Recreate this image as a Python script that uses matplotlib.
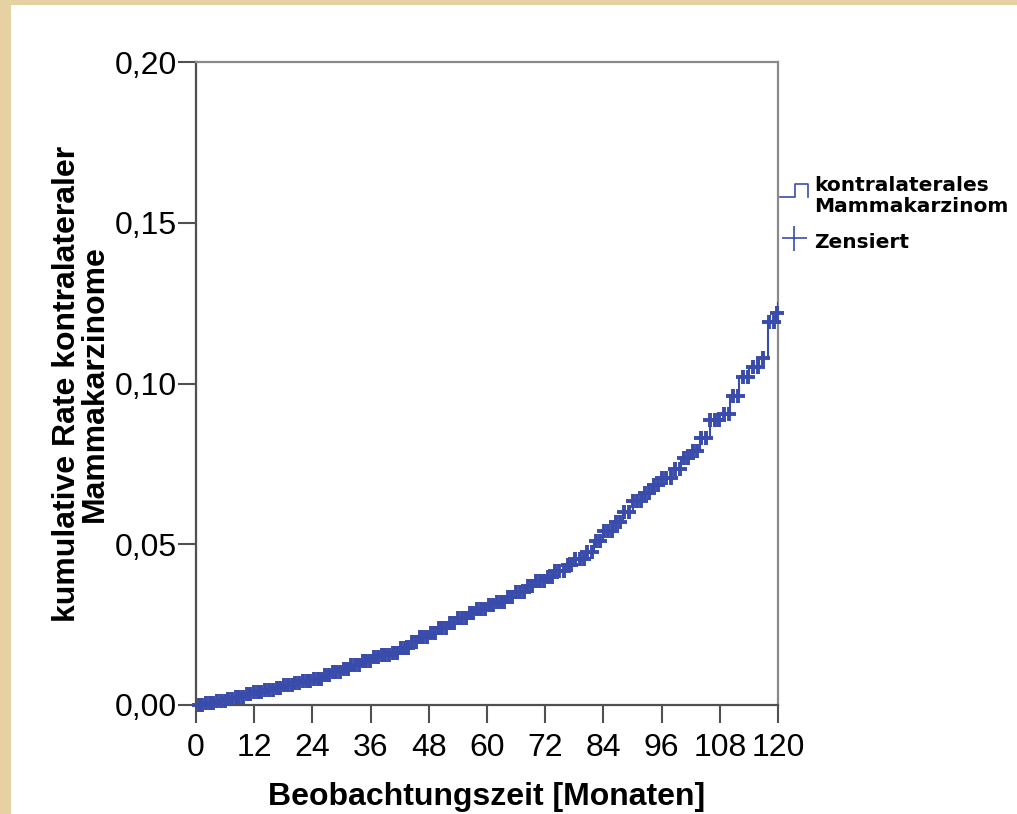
import numpy as np
import matplotlib
matplotlib.use("Agg")
import matplotlib.pyplot as plt
from matplotlib.lines import Line2D
from matplotlib.patches import Rectangle

# Ereigniszeitpunkte (Monate) und kumulative Rate danach
event_t = [0, 2, 4, 6, 8, 10, 12, 14, 16, 18, 20, 22, 24, 26, 28, 30, 32, 34, 36,
           38, 40, 42, 44, 46, 48, 50, 52, 54, 56, 58, 60, 62, 64, 66, 68, 70, 72,
           74, 76, 78, 80, 82, 84, 86, 88, 90, 92, 94, 96, 98, 100, 102, 104, 106,
           108, 110, 112, 114, 116, 118, 119.5, 120]
event_cum = [0.0, 0.0007, 0.0013, 0.0020, 0.0026, 0.0033, 0.0040, 0.0047, 0.0054,
             0.0061, 0.0068, 0.0075, 0.0082, 0.0092, 0.0102, 0.0112, 0.0125, 0.0138,
             0.0148, 0.0156, 0.0163, 0.0178, 0.0195, 0.0210, 0.0225, 0.0240, 0.0255,
             0.0270, 0.0285, 0.0298, 0.0310, 0.0320, 0.0335, 0.0352, 0.0370, 0.0385,
             0.0398, 0.0418, 0.0435, 0.0455, 0.0475, 0.0510, 0.0540, 0.0570, 0.0600,
             0.0635, 0.0660, 0.0685, 0.0705, 0.0735, 0.0768, 0.0790, 0.0830, 0.0885,
             0.0905, 0.0960, 0.1020, 0.1050, 0.1080, 0.1190, 0.1220, 0.1250]

# zensierte Beobachtungen (Monate)
censor_t = [0.6, 1.3, 2.1, 2.8, 3.6, 4.3, 5.1, 5.9, 6.6, 7.4, 8.2, 8.9, 9.7, 10.5, 11.2,
            12.0, 12.8, 13.5, 14.3, 15.1, 15.8, 16.6, 17.4, 18.1, 18.9, 19.7, 20.4, 21.2,
            22.0, 22.8, 23.5, 24.3, 25.1, 25.8, 26.6, 27.4, 28.2, 28.9, 29.7, 30.5, 31.3,
            32.0, 32.8, 33.6, 34.4, 35.1, 35.9, 36.7, 37.5, 38.3, 39.0, 39.8, 40.6, 41.4,
            42.2, 43.0, 43.7, 44.5, 45.3, 46.1, 46.9, 47.7, 48.5, 49.3, 50.1, 50.8, 51.6,
            52.4, 53.2, 54.0, 54.8, 55.6, 56.4, 57.2, 58.0, 58.8, 59.6, 60.4, 61.2, 62.0,
            62.8, 63.6, 64.4, 65.2, 66.0, 66.8, 67.6, 68.4, 69.2, 70.0, 70.9, 71.7, 72.5,
            73.3, 74.1, 74.9, 75.8, 76.6, 77.4, 78.2, 79.1, 79.9, 80.7, 81.6, 82.4, 83.2,
            84.1, 84.9, 85.8, 86.6, 87.5, 88.3, 89.2, 90.0, 90.9, 91.8, 92.6, 93.5, 94.4,
            95.2, 96.1, 97.0, 97.9, 98.8, 99.7, 100.6, 101.5, 102.4, 103.3, 104.2, 105.1,
            106.0, 107.0, 107.9, 108.9, 109.8, 110.8, 111.8, 112.8, 113.8, 114.9, 115.9,
            117.0, 118.1, 119.2, 119.8]

xticks = [0, 12, 24, 36, 48, 60, 72, 84, 96, 108, 120]
yticks = [0.0, 0.05, 0.10, 0.15, 0.20]
ytick_labels = ["0,00", "0,05", "0,10", "0,15", "0,20"]

blue = "#3a4cab"
spine_c = "#505050"

fig = plt.figure(figsize=(10.17, 8.14), dpi=100, facecolor="#e6d1a3")
fig.patches.append(Rectangle((11 / 1017, 0), 1, 1 - 5 / 814, transform=fig.transFigure,
                             facecolor="white", edgecolor="none", zorder=-10))

ax = fig.add_axes([196 / 1017, 1 - 705 / 814, 582 / 1017, 643 / 814])
ax.set_zorder(5)
ax.set_facecolor("white")

ev_t = np.array(event_t)
ev_c = np.array(event_cum)
ax.step(ev_t, ev_c, where="post", color=blue, lw=1.5, zorder=3)

ct = np.array(censor_t)
idx = np.searchsorted(ev_t, ct, side="right") - 1
ax.plot(ct, ev_c[idx], linestyle="none", marker="+", markersize=10,
        markeredgewidth=2.8, color=blue, zorder=4, clip_on=False)

ax.set_xlim(0, 120)
ax.set_ylim(0, 0.20)
ax.set_xticks(xticks)
ax.set_xticklabels([str(v) for v in xticks])
ax.set_yticks(yticks)
ax.set_yticklabels(ytick_labels)

font = "Liberation Sans"
for lab in ax.get_xticklabels() + ax.get_yticklabels():
    lab.set_fontfamily(font)
    lab.set_fontsize(23)
ax.tick_params(axis="both", length=13, width=1.5, color=spine_c, direction="out")
ax.tick_params(axis="x", pad=7)
ax.tick_params(axis="y", pad=1)

for s in ax.spines.values():
    s.set_color(spine_c)
    s.set_linewidth(1.6)
ax.spines["top"].set_color("#8a8a8a")
ax.spines["right"].set_color("#8a8a8a")

ax.set_xlabel("Beobachtungszeit [Monaten]", fontfamily=font, fontweight="bold",
              fontsize=23, labelpad=14)
ax.set_ylabel("kumulative Rate kontralateraler\nMammakarzinome", fontfamily=font,
              fontweight="bold", fontsize=23, labelpad=3, linespacing=0.9)

# Legende rechts
W, H = 1017, 814
def fx(px):
    return px / W
def fy(py):
    return 1 - py / H

fig.add_artist(Line2D([fx(780), fx(795), fx(795), fx(808), fx(808)],
                      [fy(197), fy(197), fy(184), fy(184), fy(197)],
                      color=blue, lw=1.2, transform=fig.transFigure))
fig.add_artist(Line2D([fx(794)], [fy(238)], marker="+", markersize=18,
                      markeredgewidth=1.2, color=blue, transform=fig.transFigure))
fig.text(fx(814), fy(196), "kontralaterales\nMammakarzinom", fontfamily="DejaVu Sans",
         fontweight="bold", fontsize=14.5, va="center", ha="left", linespacing=1.12)
fig.text(fx(814), fy(242), "Zensiert", fontfamily="DejaVu Sans",
         fontweight="bold", fontsize=14.5, va="center", ha="left")

fig.savefig("out.png", dpi=100, facecolor=fig.get_facecolor())
